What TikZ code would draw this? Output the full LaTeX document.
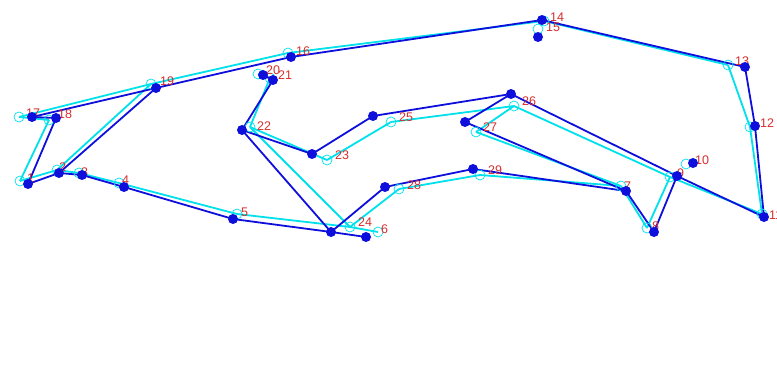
\documentclass[tikz,border=0pt]{standalone}
\usepackage{fontspec}
\setmainfont{Liberation Sans}
\definecolor{bl}{RGB}{15,15,220}
\definecolor{cy}{RGB}{0,225,235}
\definecolor{lab}{RGB}{215,45,45}
\begin{document}
\begin{tikzpicture}[x=1pt,y=-1pt,
  bline/.style={draw=bl,line width=1.8pt},
  cline/.style={draw=cy,line width=1.8pt},
  bdot/.style={fill=bl},
  cring/.style={draw=cy,line width=0.7pt},
  lbl/.style={text=lab,font=\fontsize{12.5}{14}\selectfont,inner sep=0pt}]
\useasboundingbox (0,0) rectangle (777,385);
% blue points
\foreach \n/\x/\y in {1/28/184,2/59/173,3/82/175,4/124/187,5/233/219,6/366/237,7/626/191,8/654/232,9/677/176,10/693/163,11/764/217,12/755/126,13/745/67,14/542/20,15/538/37,16/291/57,17/32/117,18/56/118,19/156/88,20/263/75,21/273/80,22/242/130,23/312/154,24/331/232,25/373/116,26/511/94,27/465/122,28/385/187,29/473/169}
  {\coordinate (b\n) at (\x,\y);}
% cyan points
\foreach \n/\x/\y in {1/20/181,2/57/170,3/79/173,4/119/183,5/237/214,6/378/232,7/621/186,8/647/228,9/670/177,10/686/164,11/762/214,12/750/127,13/728/65,14/544/21,15/538/29,16/288/53,17/19/117,18/49/120,19/151/84,20/258/74,21/270/78,22/250/127,23/327/160,24/350/227,25/391/122,26/514/106,27/476/132,28/399/189,29/480/175}
  {\coordinate (c\n) at (\x,\y);}
% cyan lines
\foreach \a/\b in {1/2,2/3,3/4,4/5,5/24,24/6,24/22,24/28,28/29,29/7,7/8,8/9,9/11,26/9,7/27,27/26,26/25,25/23,23/22,22/21,21/20,11/12,12/13,13/14,14/16,16/19,19/17,17/18,18/1,19/2}
  {\draw[cline] (c\a) -- (c\b);}
% blue lines
\foreach \a/\b in {1/2,2/3,3/4,4/5,5/24,24/6,24/22,24/28,28/29,29/7,7/8,8/9,9/11,26/9,7/27,27/26,26/25,25/23,23/22,22/21,21/20,11/12,12/13,13/14,14/16,16/19,19/17,17/18,18/1,19/2}
  {\draw[bline] (b\a) -- (b\b);}
% cyan rings
\foreach \n in {1,...,29} {\draw[cring] (c\n) circle (5);}
% labels
\foreach \n/\x/\y in {1/33/178,2/65/167,3/87/172,4/128/180,5/247/212,6/387/229,7/630/186,8/658/226,9/683/173,10/701/160,11/775/215,12/766/123,13/741/61,14/556/17,15/552/27,16/302/51,17/32/113,18/64/114,19/166/81,20/272/70,21/284/75,22/263/126,23/341/155,24/364/222,25/405/117,26/528/101,27/489/127,28/413/185,29/494/170}
  {\node[lbl,anchor=west] (l\n) at (\x-6,\y) {\n};}
% blue dots
\foreach \n in {1,...,29} {\fill[bdot] (b\n) circle (5);}
\end{tikzpicture}
\end{document}
